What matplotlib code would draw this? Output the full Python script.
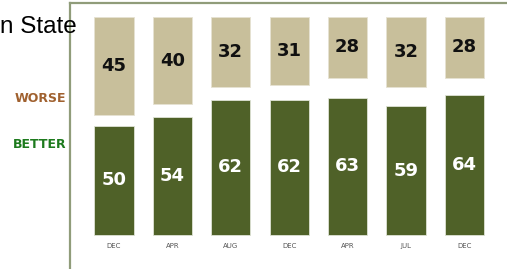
import matplotlib
matplotlib.use('Agg')
from matplotlib import pyplot as plt

#survey results, worse vs better
months = ['DEC', 'APR', 'AUG', 'DEC', 'APR', 'JUL', 'DEC']
worse = [45, 40, 32, 31, 28, 32, 28]
better = [50, 54, 62, 62, 63, 59, 64]

tan = '#c8bf9b'
green = '#4f6128'

fig = plt.figure(figsize=(5.07, 2.69), dpi=100)
#axes frame runs off the bottom and right of the picture
ax = fig.add_axes([70/507, 0, 1 - 70/507, 266/269])

x = list(range(len(months)))
ax.bar(x, better, width=0.67, color=green, edgecolor='#dfe3d5', linewidth=0.6)
ax.bar(x, worse, width=0.67, bottom=[100 - w for w in worse], color=tan,
       edgecolor='#e6e2d2', linewidth=0.6)

for i in x:
    ax.text(i, 100 - worse[i] / 2, str(worse[i]), ha='center', va='center',
            fontsize=13, fontweight='bold', color='#111111')
    ax.text(i, better[i] / 2, str(better[i]), ha='center', va='center',
            fontsize=13, fontweight='bold', color='white')
    ax.text(i, -5, months[i], ha='center', va='center', fontsize=5,
            color='#555555')

ax.set_xlim(-0.753, 6.73)
ax.set_ylim(-15.6, 106.4)
ax.set_xticks([])
ax.set_yticks([])
for side in ['right', 'bottom']:
    ax.spines[side].set_visible(False)
for side in ['left', 'top']:
    ax.spines[side].set_color('#909c7a')
    ax.spines[side].set_linewidth(1.6)

fig.text(66/507, 1 - 99/269, 'WORSE', ha='right', va='center', fontsize=9,
         fontweight='bold', color='#a0612f', family='Liberation Sans Narrow')
fig.text(66/507, 1 - 145/269, 'BETTER', ha='right', va='center', fontsize=9,
         fontweight='bold', color='#1d7a1d', family='Liberation Sans Narrow')
fig.text(0, 1 - 33/269, 'n State', ha='left', va='baseline', fontsize=17.5,
         color='black', family='Liberation Sans')

fig.savefig('out.png', dpi=100)
